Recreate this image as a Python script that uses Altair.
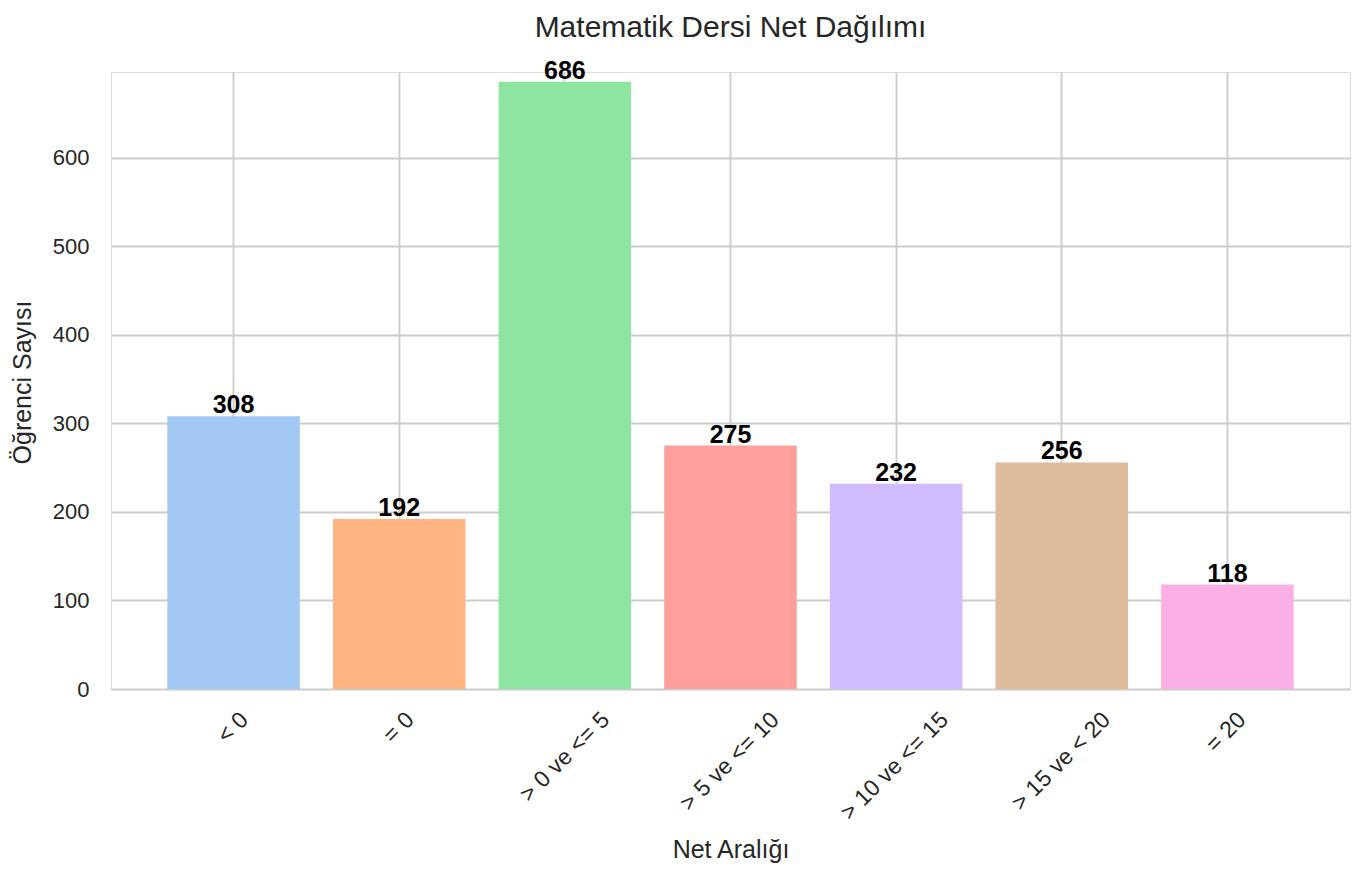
import altair as alt
import pandas as pd

categories = ["< 0", "= 0", "> 0 ve <= 5", "> 5 ve <= 10", "> 10 ve <= 15", "> 15 ve < 20", "= 20"]
counts = [308, 192, 686, 275, 232, 256, 118]
palette = ["#a1c9f4", "#ffb482", "#8de5a1", "#ff9f9b", "#d0bbff", "#debb9b", "#fab0e4"]
y_ticks = [0, 100, 200, 300, 400, 500, 600]

df = pd.DataFrame({"Net Aralığı": categories, "Öğrenci Sayısı": counts})

FONT = "Liberation Sans"
TXT = "#262626"

x_enc = alt.X(
    "Net Aralığı:N",
    sort=categories,
    scale=alt.Scale(paddingInner=0.2, paddingOuter=0.34),
    axis=alt.Axis(
        title="Net Aralığı",
        labelAngle=-45,
        labelAlign="right",
        labelBaseline="top",
        labelPadding=19,
        labelOffset=alt.ExprRef(expr="3.75*length(datum.label) - 8"),
        labelFontSize=23,
        labelFont=FONT,
        labelColor=TXT,
        labelOverlap=False,
        ticks=False,
        domain=False,
        grid=True,
        gridColor="#cccccc",
        gridWidth=1.8,
        titleFontSize=25,
        titleFont=FONT,
        titleColor=TXT,
        titleFontWeight="normal",
        titleX=619.5,
        titleY=168,
        titleBaseline="alphabetic",
        titleAlign="center",
    ),
)

y_enc = alt.Y(
    "Öğrenci Sayısı:Q",
    scale=alt.Scale(domain=[0, 697], nice=False, zero=True),
    axis=alt.Axis(
        title="Öğrenci Sayısı",
        values=y_ticks,
        labelFontSize=22,
        labelFont=FONT,
        labelColor=TXT,
        labelPadding=22,
        ticks=False,
        domain=False,
        grid=True,
        gridColor="#cccccc",
        gridWidth=1.8,
        titleFontSize=25,
        titleFont=FONT,
        titleColor=TXT,
        titleFontWeight="normal",
        titleX=-89,
        titleY=310,
        titleBaseline="middle",
        titleAlign="center",
        titleAngle=270,
    ),
)

bars = alt.Chart(df).mark_bar().encode(
    x=x_enc,
    y=y_enc,
    color=alt.Color(
        "Net Aralığı:N",
        scale=alt.Scale(domain=categories, range=palette),
        legend=None,
    ),
)

labels = alt.Chart(df).mark_text(
    dy=-3,
    baseline="alphabetic",
    align="center",
    fontWeight="bold",
    fontSize=25,
    font=FONT,
    color="black",
).encode(
    x=alt.X("Net Aralığı:N", sort=categories),
    y=alt.Y("Öğrenci Sayısı:Q"),
    text=alt.Text("Öğrenci Sayısı:Q"),
)

chart = (
    alt.layer(bars, labels)
    .properties(
        width=1239,
        height=617,
        title=alt.TitleParams(
            text="Matematik Dersi Net Dağılımı",
            fontSize=30,
            font=FONT,
            color=TXT,
            fontWeight="normal",
            anchor="middle",
            frame="group",
            baseline="alphabetic",
            offset=0,
            dy=8,
        ),
        autosize=alt.AutoSizeParams(type="none"),
        padding={"left": 103, "top": 64, "right": 8, "bottom": 180},
    )
    .configure_view(stroke="#cccccc", strokeWidth=2.5)
    .configure(background="white")
)

chart.save("out.html", embed_options={"renderer": "svg", "actions": False})
